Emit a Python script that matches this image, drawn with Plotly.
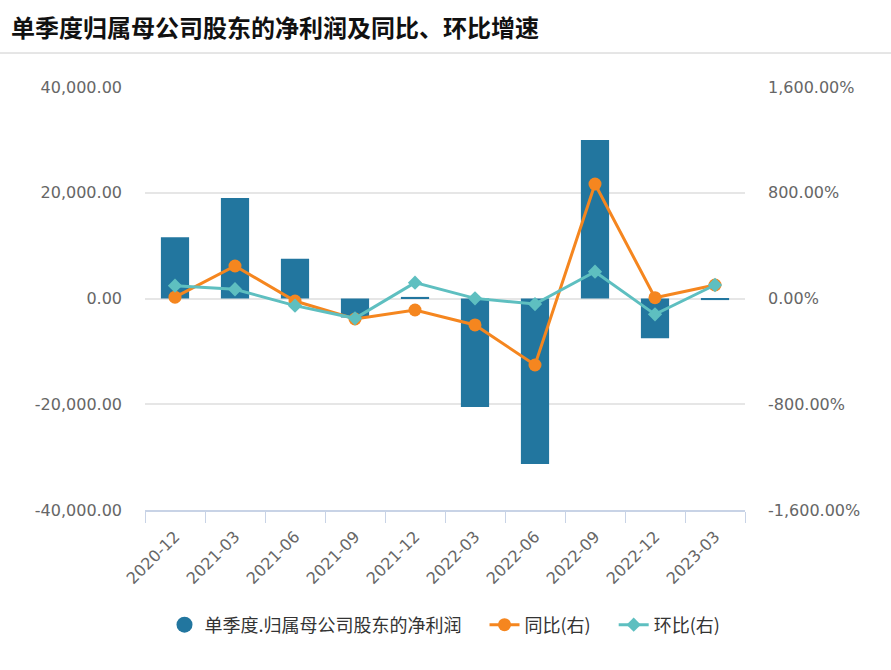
import plotly.graph_objects as go

categories = ["2020-12", "2021-03", "2021-06", "2021-09", "2021-12",
              "2022-03", "2022-06", "2022-09", "2022-12", "2023-03"]
net_profit = [11600, 19000, 7500, -3600, 300, -20500, -31300, 30000, -7500, -300]
yoy_pct = [10, 246, -19, -155, -87, -200, -503, 866, 6, 102]
qoq_pct = [97, 70, -54, -150, 120, 1, -42, 203, -120, 102]

left_ticks = [-40000, -20000, 0, 20000, 40000]
left_labels = ["-40,000.00", "-20,000.00", "0.00", "20,000.00", "40,000.00"]
right_ticks = [-1600, -800, 0, 800, 1600]
right_labels = ["-1,600.00%", "-800.00%", "0.00%", "800.00%", "1,600.00%"]

BAR = "#22769f"
ORANGE = "#f5861f"
TEAL = "#5ebfc0"
FONT = "Noto Sans CJK SC"
TICKFONT = "DejaVu Sans"
GAP = "\u2003"

fig = go.Figure()
fig.add_trace(go.Bar(x=categories, y=net_profit, marker=dict(color=BAR, line=dict(width=0)),
                     width=0.47, showlegend=False, name="单季度.归属母公司股东的净利润"))
# legend proxy for bar (circle icon)
fig.add_trace(go.Scatter(x=[None], y=[None], mode="markers",
                         marker=dict(color=BAR, size=17, symbol="circle"),
                         name="单季度.归属母公司股东的净利润" + GAP))
fig.add_trace(go.Scatter(x=categories, y=yoy_pct, yaxis="y2", mode="lines+markers",
                         line=dict(color=ORANGE, width=3),
                         marker=dict(color=ORANGE, size=13, symbol="circle"),
                         name="同比(右)" + GAP))
fig.add_trace(go.Scatter(x=categories, y=qoq_pct, yaxis="y2", mode="lines+markers",
                         line=dict(color=TEAL, width=3),
                         marker=dict(color=TEAL, size=11, symbol="diamond"),
                         name="环比(右)"))

fig.update_layout(
    width=891, height=670,
    margin=dict(l=145, r=146, t=87, b=160, autoexpand=False),
    paper_bgcolor="white", plot_bgcolor="white",
    font=dict(family=FONT, color="#666666", size=14),
    title=dict(text="<b>单季度归属母公司股东的净利润及同比、环比增速</b>",
               x=11/891, xanchor="left", y=1-29/670, yanchor="middle",
               font=dict(family=FONT, size=24, color="#111111")),
    bargap=0.5,
    xaxis=dict(type="category", range=[-0.5, len(categories) - 0.5],
               tickson="boundaries", ticks="outside", ticklen=11,
               tickcolor="#c8d3e6", showline=True, linecolor="#c8d3e6", linewidth=2,
               showgrid=False, tickangle=-45, automargin=False, ticklabelstandoff=9,
               tickfont=dict(family=TICKFONT, size=16, color="#666666"),
               zeroline=False),
    yaxis=dict(range=[-40000, 40000], tickvals=left_ticks, ticktext=left_labels,
               showgrid=True, gridcolor="#e6e6e6", gridwidth=2, zeroline=False,
               showline=False, ticks="", ticklabelstandoff=22, automargin=False,
               tickfont=dict(family=TICKFONT, size=16, color="#666666")),
    yaxis2=dict(range=[-1600, 1600], tickvals=right_ticks, ticktext=right_labels,
                overlaying="y", side="right", showgrid=False, zeroline=False,
                showline=False, ticks="", ticklabelstandoff=22, automargin=False,
                tickfont=dict(family=TICKFONT, size=16, color="#666666")),
    legend=dict(orientation="h", x=0.5, xanchor="center", y=(510-625)/423, yanchor="middle",
                font=dict(family=FONT, size=18, color="#333333"), itemwidth=30,
                bgcolor="rgba(0,0,0,0)"),
    shapes=[dict(type="line", xref="paper", yref="paper",
                 x0=-145/600, x1=(891-145)/600, y0=(510-53)/423, y1=(510-53)/423,
                 line=dict(color="#cccccc", width=1))],
)

fig.write_html("out.html", post_script="document.body.style.margin='0';",
               config={"displayModeBar": False})
